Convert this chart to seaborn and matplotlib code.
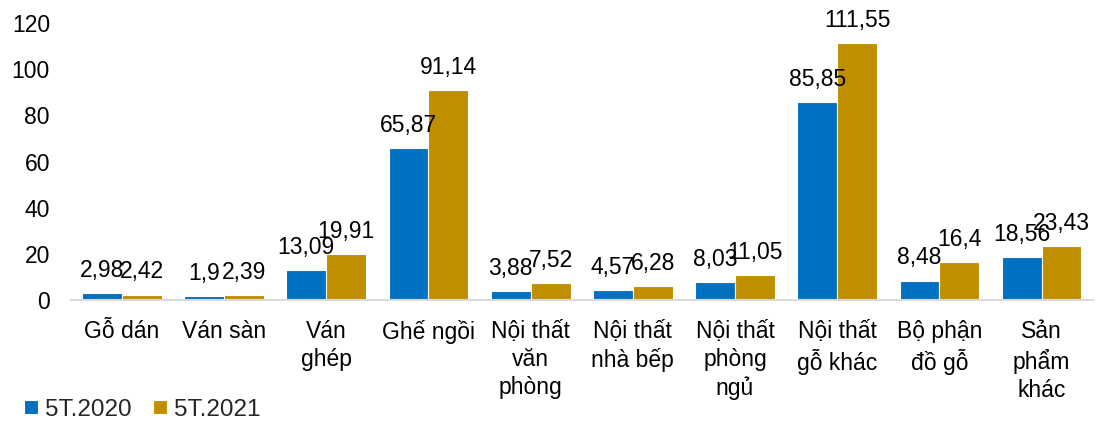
import matplotlib
matplotlib.use("Agg")
import matplotlib.pyplot as plt
import seaborn as sns
import pandas as pd

categories = ["Gỗ dán", "Ván sàn", "Ván\nghép", "Ghế ngồi", "Nội thất\nvăn\nphòng",
              "Nội thất\nnhà bếp", "Nội thất\nphòng\nngủ", "Nội thất\ngỗ khác",
              "Bộ phận\nđồ gỗ", "Sản\nphẩm\nkhác"]
series_names = ["5T.2020", "5T.2021"]
values_2020 = [2.98, 1.9, 13.09, 65.87, 3.88, 4.57, 8.03, 85.85, 8.48, 18.56]
values_2021 = [2.42, 2.39, 19.91, 91.14, 7.52, 6.28, 11.05, 111.55, 16.4, 23.43]
label_2020 = ["2,98", "1,9", "13,09", "65,87", "3,88", "4,57", "8,03", "85,85", "8,48", "18,56"]
label_2021 = ["2,42", "2,39", "19,91", "91,14", "7,52", "6,28", "11,05", "111,55", "16,4", "23,43"]
yticks = [0, 20, 40, 60, 80, 100, 120]

df = pd.DataFrame({
    "cat": categories * 2,
    "series": [series_names[0]] * len(categories) + [series_names[1]] * len(categories),
    "value": values_2020 + values_2021,
})

sns.set_theme(style="white")
plt.rcParams['font.family'] = ['Liberation Sans', 'DejaVu Sans']

FS = 16.5
fig = plt.figure(figsize=(11.06, 4.21), dpi=100)
ax = fig.add_axes([0.064, 0.287, 0.924, 0.658])
colors = ["#0070C0", "#BF8F00"]
sns.barplot(data=df, x="cat", y="value", hue="series", palette=colors, ax=ax,
            width=0.78, edgecolor="white", linewidth=0.8, saturation=1)

for cont, labs in zip(ax.containers, [label_2020, label_2021]):
    ax.bar_label(cont, labels=labs, padding=8, fontsize=FS, color="black")

ax.set_ylim(0, 120)
ax.set_yticks(yticks)
ax.set_yticklabels([str(t) for t in yticks], fontsize=FS)
ax.set_xlim(-0.5, len(categories) - 0.5)
ax.tick_params(axis="x", labelsize=FS, pad=14, length=0, colors="black")
ax.tick_params(axis="y", length=0, pad=15, colors="black")
for lbl in ax.get_xticklabels():
    lbl.set_linespacing(1.3)
ax.set_xlabel("")
ax.set_ylabel("")
for s in ["top", "right", "left"]:
    ax.spines[s].set_visible(False)
ax.spines["bottom"].set_color("#D9D9D9")
ax.spines["bottom"].set_linewidth(1.5)

ax.legend(loc="lower left", bbox_to_anchor=(-0.055, -0.47), ncol=2, frameon=False,
          fontsize=17.5, handlelength=0.55, handleheight=0.55, handletextpad=0.3,
          columnspacing=0.9, borderaxespad=0)

fig.savefig("out.png", dpi=100)
